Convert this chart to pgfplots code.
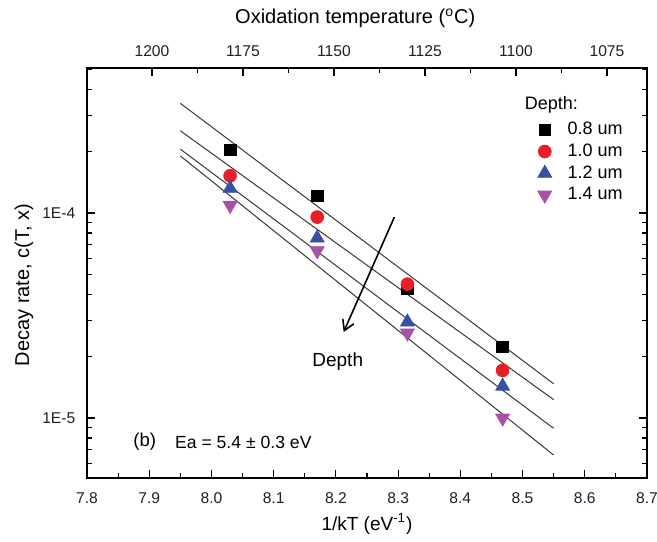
\documentclass[border=0pt]{standalone}
\usepackage{pgfplots}
\pgfplotsset{compat=1.18}
\usepackage{fontspec}
\setmainfont{Liberation Sans}
\usetikzlibrary{arrows.meta}
\definecolor{cred}{RGB}{232,30,40}
\definecolor{cblue}{RGB}{55,80,160}
\definecolor{cpurp}{RGB}{170,80,165}
\definecolor{lgray}{RGB}{55,55,55}
\definecolor{tickc}{RGB}{30,30,45}
\begin{document}
\fontsize{8}{9.6}\selectfont
\begin{tikzpicture}
\useasboundingbox (-43.5pt,-31.5pt) rectangle (285pt,239pt);
\begin{axis}[
  scale only axis, width=280pt, height=205pt,
  at={(0,0)}, anchor=south west,
  xmin=7.8, xmax=8.7, ymode=log, ymin=5.1e-6, ymax=5.1e-4,
  xtick={7.8,7.9,8.0,8.1,8.2,8.3,8.4,8.5,8.6,8.7},
  minor x tick num=1,
  xtick pos=bottom,
  tick label style={font=\fontsize{7.8}{9}\selectfont, text=tickc},
  xticklabel style={yshift=-4.5pt, /pgf/number format/fixed, /pgf/number format/fixed zerofill, /pgf/number format/precision=1, /pgf/number format/assume math mode=true},
  ytick={1e-5,1e-4}, yticklabels={1E-5,1E-4},
  minor ytick={6e-6,7e-6,8e-6,9e-6,2e-5,3e-5,4e-5,5e-5,6e-5,7e-5,8e-5,9e-5,2e-4,3e-4,4e-4,5e-4},
  yticklabel pos=left,
  tick align=inside,
  major tick length=4pt, minor tick length=2.5pt,
  axis line style={line width=0.75pt},
  every tick/.style={line width=0.6pt, black},
  yticklabel style={xshift=-3pt},
  xlabel={1/kT (eV\textsuperscript{-1})},
  ylabel={Decay rate, c(T, x)},
  xlabel style={font=\fontsize{9.5}{11}\selectfont, at={(axis description cs:0.5,0)}, yshift=-23pt, anchor=center},
  ylabel style={font=\fontsize{10}{12}\selectfont, at={(axis description cs:-0.1125,0.471)}, anchor=center},
  legend cell align=left,
  legend style={at={(axis cs:8.524,2.86e-4)}, anchor=north west, draw=none, fill=none, inner sep=0pt,
    font=\fontsize{9}{10.8}\selectfont,
    nodes={inner sep=1pt, text height=6.3pt, text depth=1.5pt}, row sep=1.1pt, column sep=7pt},
]
% fit lines
\addplot[lgray, line width=0.5pt, forget plot] coordinates {(7.95,3.43e-4) (8.55,1.47e-5)};
\addplot[lgray, line width=0.5pt, forget plot] coordinates {(7.95,2.52e-4) (8.55,1.23e-5)};
\addplot[lgray, line width=0.5pt, forget plot] coordinates {(7.95,2.05e-4) (8.55,8.91e-6)};
\addplot[lgray, line width=0.5pt, forget plot] coordinates {(7.95,1.90e-4) (8.55,6.6e-6)};
% data
\addplot[only marks, mark=square*, mark size=2.9pt, black, mark options={fill=black}]
  coordinates {(8.03,2.03e-4) (8.17,1.21e-4) (8.315,4.26e-5) (8.468,2.22e-5)};
\addlegendentry{0.8 um}
\addplot[only marks, mark=*, mark size=3.2pt, cred, mark options={fill=cred, draw=cred}]
  coordinates {(8.03,1.52e-4) (8.17,9.56e-5) (8.315,4.5e-5) (8.468,1.71e-5)};
\addlegendentry{1.0 um}
\addplot[only marks, mark=triangle*, mark size=4pt, cblue, mark options={fill=cblue, draw=cblue}]
  coordinates {(8.03,1.32e-4) (8.17,7.55e-5) (8.315,2.94e-5) (8.468,1.43e-5)};
\addlegendentry{1.2 um}
\addplot[only marks, mark=triangle*, mark size=4pt, cpurp, mark options={fill=cpurp, draw=cpurp, rotate=180}]
  coordinates {(8.03,1.09e-4) (8.17,6.55e-5) (8.315,2.60e-5) (8.468,1.0e-5)};
\addlegendentry{1.4 um}
% annotations
\draw[line width=0.8pt, -{Straight Barb[length=5pt, width=6pt]}] (axis cs:8.294,9.56e-5) -- (axis cs:8.2125,2.63e-5);
\node[anchor=center, font=\fontsize{9.5}{11}\selectfont] at (axis cs:8.203,1.88e-5) {Depth};
\node[anchor=west, inner sep=0pt, font=\fontsize{9}{10.8}\selectfont] at (axis cs:8.503,3.36e-4) {Depth:};
\node[anchor=west, inner sep=0pt, font=\fontsize{9.3}{11}\selectfont] at (axis cs:7.874,7.64e-6) {(b)};
\node[anchor=west, inner sep=0pt, font=\fontsize{8.8}{10.5}\selectfont] at (axis cs:7.941,7.64e-6) {Ea = 5.4 ± 0.3 eV};
\end{axis}
\begin{axis}[
  scale only axis, width=280pt, height=205pt,
  at={(0,0)}, anchor=south west,
  xmin=1064, xmax=1217.86, x dir=reverse,
  axis x line*=top, axis y line=none,
  ymin=0, ymax=1,
  xtick={1075,1100,1125,1150,1175,1200},
  minor x tick num=1,
  tick align=inside,
  major tick length=4pt, minor tick length=2.5pt,
  axis line style={line width=0.75pt},
  every tick/.style={line width=0.6pt, black},
  tick label style={font=\fontsize{7.8}{9}\selectfont, text=tickc},
  xticklabel style={yshift=3pt, /pgf/number format/1000 sep={}, /pgf/number format/assume math mode=true},
  xlabel={Oxidation temperature (\textsuperscript{o}C)},
  xlabel style={font=\fontsize{10}{12}\selectfont, at={(axis description cs:0.479,1)}, yshift=25pt, anchor=center},
]
\addplot[draw=none] coordinates {(1100,0.5)};
\end{axis}
\end{tikzpicture}
\end{document}
